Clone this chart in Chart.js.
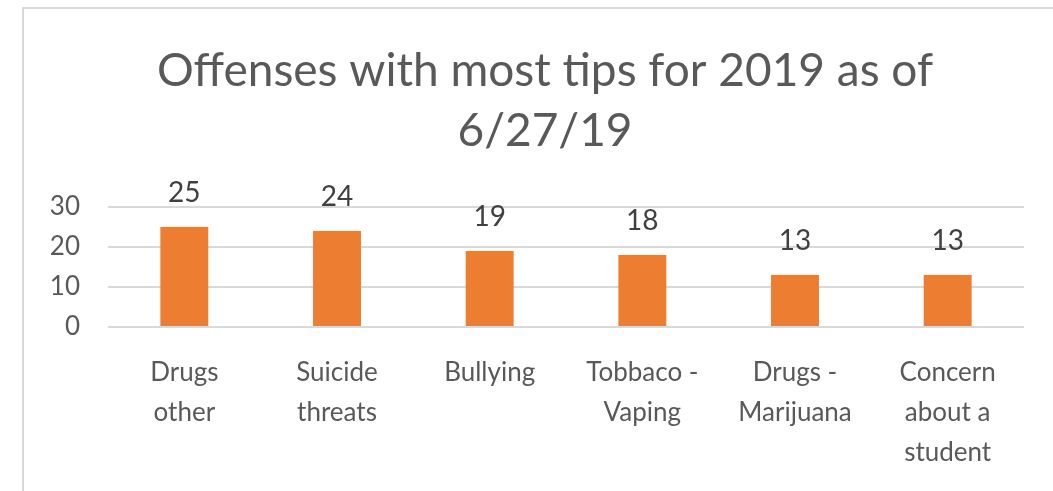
<!DOCTYPE html>
<html>
<head>
<meta charset="utf-8">
<script src="https://cdn.jsdelivr.net/npm/chart.js@4/dist/chart.umd.min.js"></script>
<style>
  html, body { margin: 0; padding: 0; background: #fff; }
  body { width: 1053px; height: 491px; overflow: hidden; position: relative; }
  #frame {
    position: absolute; left: 22px; top: 7px; width: 1031px; height: 484px;
    border-left: 2px solid #d9d9d9; border-top: 2px solid #d9d9d9;
  }
  #wrap { position: absolute; left: 0; top: 0; width: 1029px; height: 482px; }
</style>
</head>
<body>
<div id="frame"><div id="wrap"><canvas id="chart"></canvas></div></div>
<script>
// chart data
const titleLines = ['Offenses with most tips for 2019 as of', '6/27/19'];
const categories = [
  ['Drugs', 'other'],
  ['Suicide', 'threats'],
  ['Bullying'],
  ['Tobbaco -', 'Vaping'],
  ['Drugs -', 'Marijuana'],
  ['Concern', 'about a', 'student']
];
const tips = [25, 24, 19, 18, 13, 13];
const yTicks = [0, 10, 20, 30];

const FONT = 'Lato, "Open Sans", sans-serif';

// title, centred a bit right of the canvas middle like the original
const chartTitle = {
  id: 'chartTitle',
  afterDraw(chart) {
    const ctx = chart.ctx;
    ctx.save();
    ctx.font = '46px ' + FONT;
    ctx.fillStyle = '#595959';
    ctx.textAlign = 'center';
    ctx.textBaseline = 'alphabetic';
    titleLines.forEach((line, i) => {
      ctx.fillText(line, 521, 77 + i * 60);
    });
    ctx.restore();
  }
};

// value labels above each bar
const barLabels = {
  id: 'barLabels',
  afterDatasetsDraw(chart) {
    const ctx = chart.ctx;
    const meta = chart.getDatasetMeta(0);
    ctx.save();
    ctx.font = '28px ' + FONT;
    ctx.fillStyle = '#404040';
    ctx.textAlign = 'center';
    ctx.textBaseline = 'middle';
    meta.data.forEach((bar, i) => {
      ctx.fillText(String(tips[i]), bar.x, bar.y - 34);
    });
    ctx.restore();
  }
};

const ctx = document.getElementById('chart').getContext('2d');
new Chart(ctx, {
  type: 'bar',
  data: {
    labels: categories,
    datasets: [{
      data: tips,
      backgroundColor: '#ED7D31',
      borderWidth: 0,
      categoryPercentage: 1,
      barPercentage: 0.314
    }]
  },
  options: {
    responsive: true,
    maintainAspectRatio: false,
    animation: false,
    layout: { padding: { left: 0, right: 29, top: 198, bottom: 0 } },
    plugins: {
      legend: { display: false },
      tooltip: { enabled: false },
      title: { display: false }
    },
    scales: {
      x: {
        grid: { display: false },
        border: { display: false },
        ticks: {
          color: '#595959',
          font: { family: FONT, size: 26, lineHeight: 1.55 },
          padding: 17,
          maxRotation: 0,
          autoSkip: false
        },
        afterFit(axis) { axis.height = 164; }
      },
      y: {
        min: 0,
        max: 30,
        afterBuildTicks(axis) { axis.ticks = yTicks.map(v => ({ value: v })); },
        grid: { color: '#d9d9d9', lineWidth: 2, drawTicks: false },
        border: { display: false },
        ticks: {
          color: '#595959',
          font: { family: FONT, size: 26 },
          padding: 28
        },
        afterFit(axis) { axis.width = 84; }
      }
    }
  },
  plugins: [barLabels, chartTitle]
});
</script>
</body>
</html>
